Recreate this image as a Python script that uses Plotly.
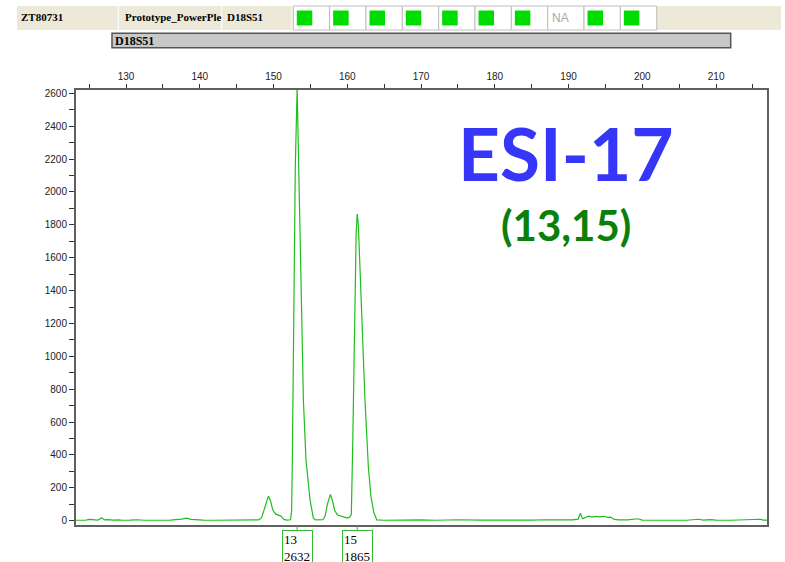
import plotly.graph_objects as go

# Electropherogram trace for locus D18S51: fragment size (bp) vs signal (RFU)
size_bp = [
    123.2, 124.5, 125.0, 125.8, 126.2, 126.7, 127.1, 127.6, 128.2, 129.0,
    129.5, 130.5, 131.5, 132.5, 134.0, 136.0, 137.5, 138.2, 138.8, 139.5,
    140.5, 142.0, 144.0, 145.5, 146.5, 147.5, 148.0, 148.4, 148.8, 149.3,
    149.6, 149.9, 150.3, 150.6, 151.0, 151.4, 151.8, 152.3, 152.45, 152.55,
    152.75, 152.95, 153.2, 153.35, 153.46, 153.73, 154.05, 154.4, 154.72, 154.95,
    155.4, 155.7, 156.7, 157.0, 157.3, 157.55, 157.7, 158.0, 158.3, 158.7,
    159.1, 159.5, 159.9, 160.3, 160.55, 160.75, 161.0, 161.2, 161.35, 161.5,
    161.75, 162.05, 162.4, 162.85, 163.2, 163.6, 164.0, 165.0, 166.0, 168.0,
    170.0, 172.0, 175.0, 178.0, 180.0, 182.0, 185.0, 187.0, 189.0, 190.5,
    191.3, 191.6, 191.9, 192.3, 192.7, 193.2, 193.7, 194.2, 194.8, 195.3,
    195.7, 196.2, 196.8, 198.0, 199.4, 200.0, 202.0, 204.0, 206.0, 207.6,
    208.3, 209.2, 210.0, 212.0, 214.0, 216.0, 216.4, 217.0,
]
rfu = [
    3, 3, 8, 6, 4, 18, 5, 7, 4, 5,
    3, 4, 6, 3, 3, 4, 10, 16, 8, 5,
    4, 3, 4, 3, 6, 4, 5, 20, 85, 150,
    120, 65, 40, 35, 28, 8, 4, 6, 60, 370,
    1200, 2150, 2632, 2300, 1950, 1340, 730, 370, 248, 126,
    16, 5, 6, 30, 100, 150, 160, 120, 60, 35,
    28, 25, 18, 20, 40, 500, 1300, 1750, 1865, 1800,
    1500, 1100, 732, 330, 150, 50, 5, 3, 4, 3,
    5, 3, 6, 4, 3, 5, 4, 6, 4, 5,
    10, 45, 12, 18, 28, 22, 26, 24, 27, 20,
    22, 8, 5, 5, 12, 4, 3, 5, 3, 9,
    4, 7, 4, 3, 5, 9, 4, 4,
]

# Called alleles: label, size (bp), height (RFU)
allele_labels = ["13", "15"]
allele_sizes = [153.2, 161.35]
allele_heights = [2632, 1865]

x_ticks = [130, 140, 150, 160, 170, 180, 190, 200, 210]

# Header strip
header_cells = ["ZT80731", "Prototype_PowerPle", "D18S51"]
marker_status = ["ok", "ok", "ok", "ok", "ok", "ok", "ok", "NA", "ok", "ok"]
locus_name = "D18S51"

title_text = "ESI-17"
genotype_text = "(13,15)"

TRACE_GREEN = "#1EBE1E"
AXIS_GRAY = "#5f5f5f"

W_FIG, H_FIG = 785, 562
L, R, T, B = 76, 767, 90, 525


def px_x(px):
    return (px - L) / (R - L)


def px_y(py):
    return (B - py) / (B - T)


fig = go.Figure()
fig.add_trace(go.Scatter(
    x=size_bp, y=rfu, mode="lines",
    line=dict(color=TRACE_GREEN, width=1.2),
    hoverinfo="skip", showlegend=False,
))

shapes = []
annotations = []

# Header background band
shapes.append(dict(type="rect", xref="paper", yref="paper",
                   x0=px_x(17), x1=px_x(781), y0=px_y(30), y1=px_y(6),
                   fillcolor="#ECE9D8", line=dict(width=0), layer="above"))
for sep in [118.3, 221.7, 292.0]:
    shapes.append(dict(type="line", xref="paper", yref="paper",
                       x0=px_x(sep), x1=px_x(sep), y0=px_y(30), y1=px_y(6),
                       line=dict(color="#FFFFFF", width=1)))

cell_left = [19, 123, 225]
for text, xl in zip(header_cells, cell_left):
    annotations.append(dict(xref="paper", yref="paper", x=px_x(xl), y=px_y(17.5),
                            xanchor="left", yanchor="middle", showarrow=False,
                            text=f"<b>{text}</b>",
                            font=dict(family="Liberation Serif", size=11, color="#000000")))

# Marker status boxes
box_w = 36.34
box_x0 = 293.3
for i, status in enumerate(marker_status):
    x0 = box_x0 + i * box_w
    shapes.append(dict(type="rect", xref="paper", yref="paper",
                       x0=px_x(x0), x1=px_x(x0 + box_w), y0=px_y(30), y1=px_y(6),
                       fillcolor="#FFFFFF", line=dict(color="#BDBDBD", width=1)))
    if status == "NA":
        annotations.append(dict(xref="paper", yref="paper", x=px_x(x0 + 2), y=px_y(18),
                                xanchor="left", yanchor="middle", showarrow=False,
                                text="NA",
                                font=dict(family="Liberation Sans", size=12, color="#A8A8A8")))
    else:
        shapes.append(dict(type="rect", xref="paper", yref="paper",
                           x0=px_x(x0 + 3.5), x1=px_x(x0 + 19), y0=px_y(25.5), y1=px_y(10.5),
                           fillcolor="#00DC00", line=dict(width=0)))

# Locus bar
shapes.append(dict(type="rect", xref="paper", yref="paper",
                   x0=px_x(112), x1=px_x(730.7), y0=px_y(47.7), y1=px_y(33.3),
                   fillcolor="#C8C8C8", line=dict(color="#555555", width=1.5)))
annotations.append(dict(xref="paper", yref="paper", x=px_x(113), y=px_y(40.5),
                        xanchor="left", yanchor="middle", showarrow=False,
                        text=f"<b>{locus_name}</b>",
                        font=dict(family="Liberation Serif", size=12, color="#000000")))

# Sample title and genotype
annotations.append(dict(xref="paper", yref="paper", x=px_x(566), y=px_y(153),
                        xanchor="center", yanchor="middle", showarrow=False,
                        text=f"<b>{title_text}</b>",
                        font=dict(family="Lato", size=73, color="#3636F8")))
annotations.append(dict(xref="paper", yref="paper", x=px_x(566), y=px_y(225),
                        xanchor="center", yanchor="middle", showarrow=False,
                        text=f"<b>{genotype_text}</b>",
                        font=dict(family="Lato", size=42, color="#0A800A")))

# Allele call boxes under the axis
for lab, xs, h in zip(allele_labels, allele_sizes, allele_heights):
    shapes.append(dict(type="line", xref="x", yref="paper",
                       x0=xs, x1=xs, y0=px_y(526), y1=px_y(530),
                       line=dict(color="#33BB33", width=1)))
    annotations.append(dict(xref="x", yref="paper", x=xs, y=px_y(530),
                            xanchor="center", yanchor="top", showarrow=False,
                            text=f"{lab}<br>{h}", align="left", valign="top",
                            width=27, height=44, borderpad=1, borderwidth=1,
                            bordercolor="#33BB33", bgcolor="#FFFFFF",
                            font=dict(family="Liberation Serif", size=13, color="#000000")))

fig.update_layout(
    width=W_FIG, height=H_FIG, autosize=False,
    margin=dict(l=L, r=W_FIG - R, t=T, b=H_FIG - B, pad=0),
    paper_bgcolor="#FFFFFF", plot_bgcolor="#FFFFFF",
    shapes=shapes, annotations=annotations,
    showlegend=False,
)
fig.update_xaxes(
    range=[123.22, 216.9], side="top",
    tickvals=x_ticks, ticks="outside", ticklen=4, tickwidth=1, tickcolor="#333333",
    minor=dict(dtick=5, tick0=0, ticks="outside", ticklen=4, tickwidth=1, tickcolor="#333333"),
    showline=True, linecolor=AXIS_GRAY, linewidth=2, mirror=True,
    showgrid=False, zeroline=False,
    tickfont=dict(family="Liberation Sans", size=10, color="#222222"),
)
fig.update_yaxes(
    range=[-26, 2620], tick0=0, dtick=200,
    ticks="outside", ticklen=5, tickwidth=1, tickcolor="#333333",
    minor=dict(dtick=100, ticks="outside", ticklen=5, tickwidth=1, tickcolor="#333333"),
    showline=True, linecolor=AXIS_GRAY, linewidth=2, mirror=True,
    showgrid=False, zeroline=False,
    tickfont=dict(family="Liberation Sans", size=10, color="#222222"),
)

fig.write_html("out.html")
